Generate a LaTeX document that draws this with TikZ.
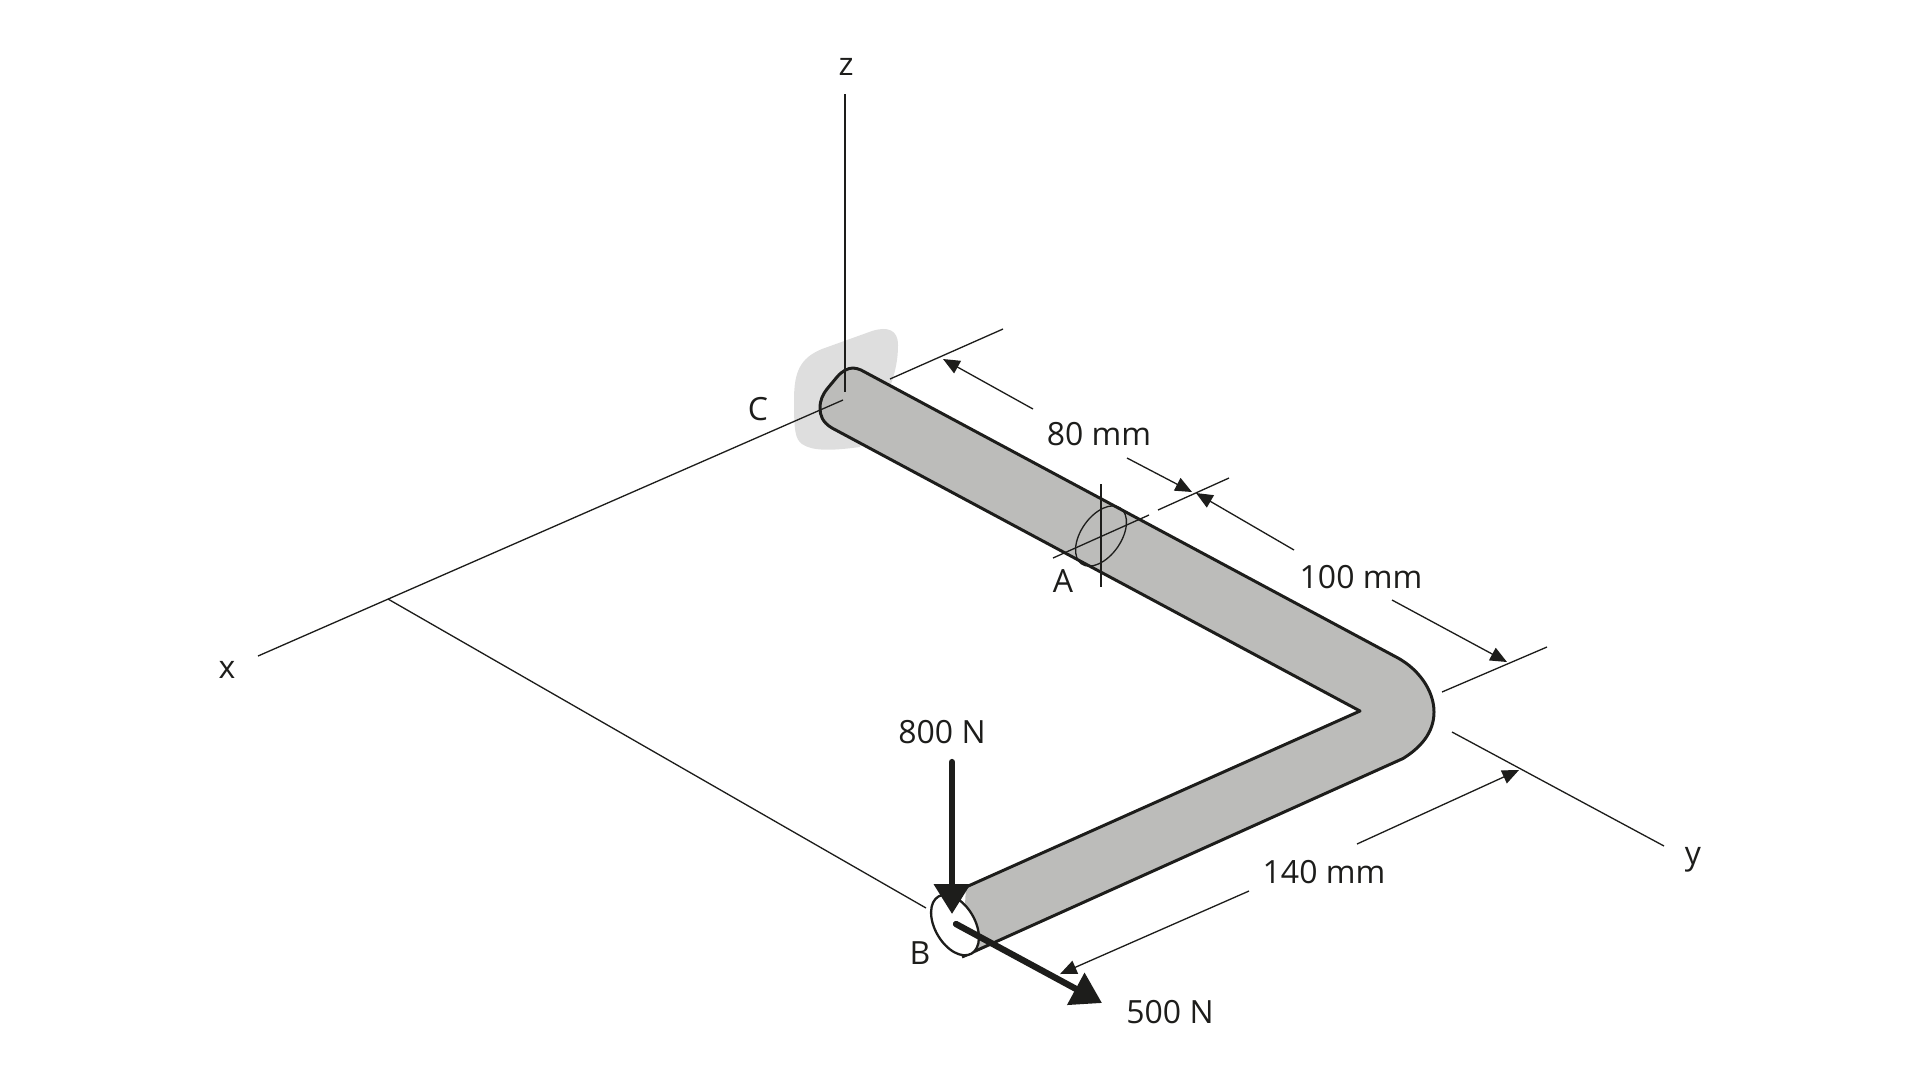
\documentclass[tikz,border=0pt]{standalone}
\usepackage{fontspec}
\setmainfont{Open Sans}
\usetikzlibrary{arrows.meta}
\definecolor{ink}{HTML}{1D1D1B}
\definecolor{pipegray}{HTML}{BCBCBA}
\definecolor{wallgray}{HTML}{DEDEDE}
\tikzset{
  thinline/.style={draw=ink, line width=0.75pt},
  dimarrow/.style={thinline, -{Triangle[length=9.5pt,width=8pt]}},
  forcearrow/.style={draw=ink, line width=3.6pt, line cap=round, -{Triangle[length=17pt,width=20pt]}},
  pipeline/.style={draw=ink, line width=1.7pt, line join=round},
  lbl/.style={font=\fontsize{18.2}{22}\selectfont, text=ink, inner sep=0pt}
}
\begin{document}
\begin{tikzpicture}[x=0.02cm,y=-0.02cm]
\useasboundingbox (0,0) rectangle (1920,1080);
% wall
\fill[wallgray] (794,400) .. controls (794,372) and (800,358) .. (822,349) -- (872,331) .. controls (888,326) and (898,330) .. (898,345) .. controls (898,365) and (893,380) .. (885,400) -- (860,447) .. controls (830,451) and (812,451) .. (802,444) .. controls (795,439) and (794,430) .. (794,400) -- cycle;
% pipe
\draw[pipeline, fill=pipegray] (966,887) -- (1360,711) -- (832,428) .. controls (822,422) and (820,415) .. (820,408) .. controls (820,400) and (823,394) .. (827,389) -- (837,377) .. controls (842,371) and (848,368) .. (853,368) .. controls (856,368) and (858,369) .. (861,370) -- (1398,658) .. controls (1418,669) and (1434,690) .. (1434,712) .. controls (1434,733) and (1420,748) .. (1403,758.5) -- (962,957);
% end of pipe
\draw[draw=ink, line width=1.3pt, fill=white, rotate around={-60:(955,925)}] (955,925) ellipse [x radius=33, y radius=20];
% axes
\draw[thinline] (845,94) -- (845,392);
\draw[thinline] (258,656) -- (843,400);
\draw[thinline] (388,599) -- (926,908);
\draw[thinline] (1452,732) -- (1664,846);
% extension lines
\draw[thinline] (890,379) -- (1003,329);
\draw[thinline] (1053,558) -- (1149,515);
\draw[thinline] (1158,510) -- (1229,478);
\draw[thinline] (1442,692) -- (1547,647);
% section at A
\draw[thinline] (1101,484) -- (1101,587);
\draw[thinline, rotate around={55:(1101,536)}] (1101,536) ellipse [x radius=34, y radius=20];
% dimensions
\draw[dimarrow] (1033,409) -- (943,359);
\draw[dimarrow] (1127,458) -- (1192,492);
\draw[dimarrow] (1294,550) -- (1196,493);
\draw[dimarrow] (1392,600) -- (1507,662);
\draw[dimarrow] (1357,844) -- (1519,770);
\draw[dimarrow] (1249,891) -- (1060,974);
% forces
\draw[forcearrow] (952,762) -- (952,914);
\draw[forcearrow] (956,924) -- (1102,1003);
% labels
\node[lbl] (zlabel) at (846,67) {z};
\node[lbl] (xlabel) at (227,670) {x};
\node[lbl] (ylabel) at (1693,860) {y};
\node[lbl] (clabel) at (758,409) {C};
\node[lbl] (alabel) at (1063,581) {A};
\node[lbl] (blabel) at (920,953) {B};
\node[lbl] (dimeighty) at (1099,434) {80 mm};
\node[lbl] (dimhundred) at (1361,577) {100 mm};
\node[lbl] (dimonefourty) at (1324,872) {140 mm};
\node[lbl] (forceeight) at (942,732) {800 N};
\node[lbl] (forcefive) at (1170,1012) {500 N};
\end{tikzpicture}
\end{document}
